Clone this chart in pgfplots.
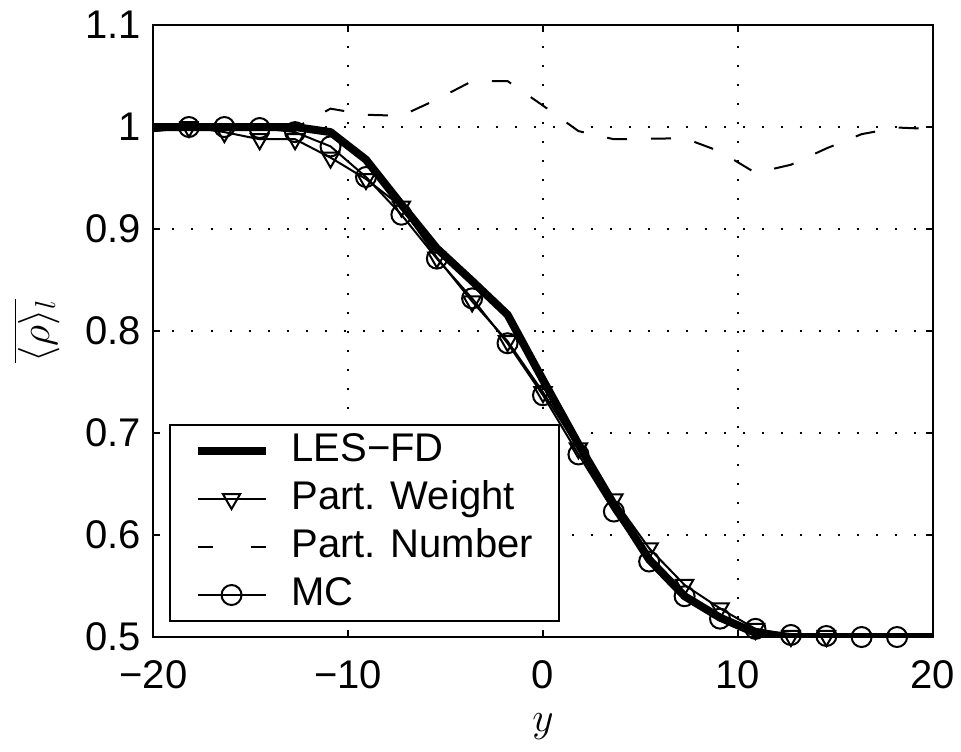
\documentclass[border=0pt]{standalone}
\usepackage{fontspec}
\setmainfont{Liberation Sans}
\usepackage{pgfplots}
\pgfplotsset{compat=1.18}

\begin{document}
\begin{tikzpicture}
\begin{axis}[
 scale only axis, width=389.5pt, height=306pt,
 xmin=-20, xmax=20, ymin=0.5, ymax=1.1,
 xtick={-20,-10,0,10,20},
 xticklabels={−20,−10,0,10,20},
 ytick={0.5,0.6,0.7,0.8,0.9,1,1.1},
 yticklabels={0.5,0.6,0.7,0.8,0.9,1,1.1},
 tick align=inside, major tick length=3.5pt,
 every tick/.style={black, line width=1pt},
 axis line style={black, line width=1pt},
 grid=major,
 major grid style={black, line width=1pt, dash pattern=on 1pt off 8.5pt},
 tick label style={font=\fontsize{20}{24}\selectfont, inner sep=0pt},
 xticklabel style={anchor=north, yshift=-11.5pt},
 yticklabel style={anchor=east, xshift=-6pt},
 xlabel={$y$}, ylabel={$\overline{\langle\rho\rangle_l}$},
 label style={font=\fontsize{20}{24}\selectfont},
 xlabel style={at={(axis description cs:0.5,-0.146)}, anchor=center, inner sep=0pt},
 ylabel style={at={(axis description cs:-0.150,0.5)}, anchor=center},
 legend cell align=left,
 legend style={at={(axis description cs:0.0193,0.0245)}, anchor=south west,
   draw=black, line width=1pt, fill=white, font=\fontsize{20}{24}\selectfont,
   inner xsep=12pt, inner ysep=1pt, column sep=10pt,
   nodes={inner xsep=1pt, inner ysep=3pt, text height=14pt, text depth=4pt}},
 legend image code/.code={\draw[mark repeat=2,mark phase=2] plot coordinates {(0pt,0pt) (17pt,0pt) (34pt,0pt)};},
]
\coordinate (sw) at (rel axis cs:0,0);

% LES-FD
\addplot[black, line width=4pt, line join=round, no markers] coordinates {
(-20,1.0) (-18.18,1.0) (-16.36,1.0) (-14.55,1.0) (-12.73,1.0) (-10.91,0.995)
(-9.09,0.968) (-7.27,0.924) (-5.45,0.881) (-3.64,0.849) (-1.82,0.816) (0,0.752)
(1.82,0.689) (3.64,0.630) (5.45,0.576) (7.27,0.540) (9.09,0.519) (10.91,0.504)
(12.73,0.500) (14.55,0.500) (16.36,0.500) (18.18,0.500) (20,0.500)};
\addlegendentry{LES−FD}

% Part. Weight
\addplot[black, line width=1pt, mark=triangle, mark size=5pt,
  every mark/.append style={rotate=180, solid, fill=none},
  mark indices={2,3,4,5,6,7,8,9,10,11,12,13,14,15,16,17,18,19,20},
  legend image code/.code={\draw[mark indices={2}] plot coordinates {(0pt,0pt) (17pt,0pt) (34pt,0pt)};}] coordinates {
(-20,0.996) (-18.18,1.000) (-16.36,0.995) (-14.55,0.988) (-12.73,0.988) (-10.91,0.970)
(-9.09,0.949) (-7.27,0.922) (-5.45,0.872) (-3.64,0.829) (-1.82,0.790) (0,0.740)
(1.82,0.685) (3.64,0.635) (5.45,0.587) (7.27,0.551) (9.09,0.528) (10.91,0.508)
(12.73,0.501) (14.55,0.501)};
\addlegendentry{Part. Weight}

% Part. Number
\addplot[black, line width=1pt, dash pattern=on 10pt off 12pt, no markers,
  legend image code/.code={\draw[dash pattern=on 7.5pt off 19pt] (0pt,0pt) -- (34pt,0pt);}] coordinates {
(-20,0.996) (-18.18,0.999) (-16.36,1.000) (-14.55,1.000) (-12.73,0.999) (-10.91,1.018)
(-9.09,1.012) (-7.27,1.011) (-5.45,1.027) (-3.64,1.045) (-1.82,1.045) (0,1.021)
(1.82,0.996) (3.64,0.988) (5.45,0.9885) (7.27,0.989) (9.09,0.976) (10.91,0.955)
(12.73,0.963) (14.55,0.979) (16.36,0.993) (18.18,0.9995) (20,0.998)};
\addlegendentry{Part. Number}

% MC
\addplot[black, line width=1pt, mark=o, mark size=5pt,
  every mark/.append style={solid, fill=none}] coordinates {
(-18.18,1.000) (-16.36,1.000) (-14.55,0.999) (-12.73,0.995) (-10.91,0.981)
(-9.09,0.951) (-7.27,0.914) (-5.45,0.871) (-3.64,0.832) (-1.82,0.788) (0,0.737)
(1.82,0.679) (3.64,0.623) (5.45,0.574) (7.27,0.540) (9.09,0.518) (10.91,0.508)
(12.73,0.502) (14.55,0.501) (16.36,0.500) (18.18,0.500)};
\addlegendentry{MC}
\end{axis}
\pgfresetboundingbox
\path[use as bounding box] ([shift={(-76.75pt,-57pt)}]sw) rectangle ([shift={(403.75pt,318.5pt)}]sw);
\end{tikzpicture}
\end{document}
